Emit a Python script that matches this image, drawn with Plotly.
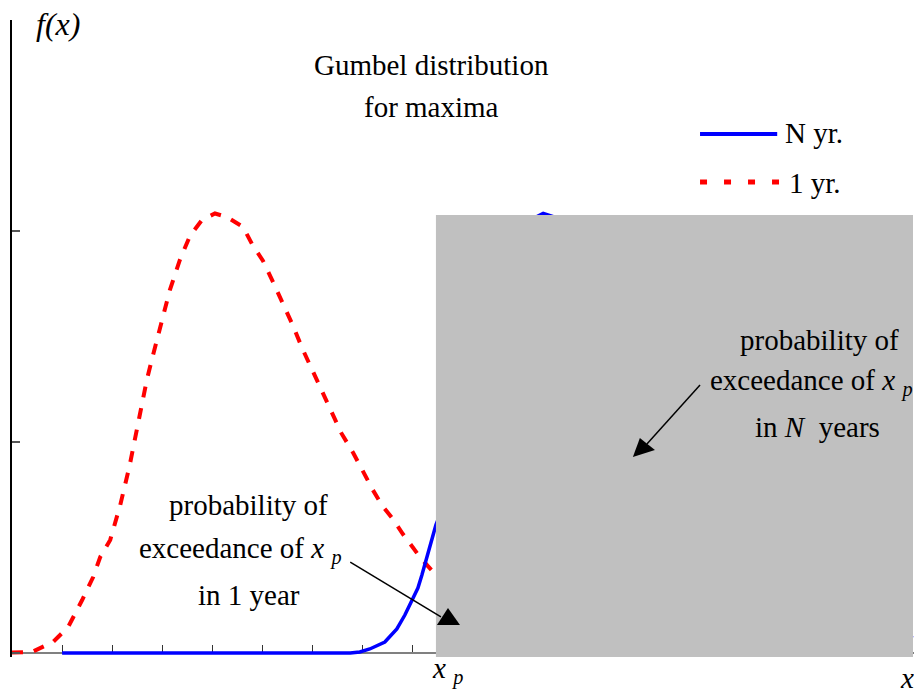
import plotly.graph_objects as go

# ---- data (x in axis units, f(x) in axis units) ----
one_year_x = [0.00, 0.40, 0.82, 1.12, 1.40, 1.62, 1.76, 1.96, 2.16, 2.35, 2.55, 2.69,
              2.81, 2.99, 3.15, 3.35, 3.55, 3.79, 4.05, 4.29, 4.61, 4.79, 5.01, 5.21,
              5.41, 5.61, 5.79, 5.99, 6.21, 6.39, 6.57, 6.81, 7.00, 7.20, 7.38, 7.60,
              7.80, 7.98, 8.14, 8.30, 8.46, 8.74, 9.14, 9.74, 10.54, 11.73, 13.33,
              15.33, 17.98]
one_year_f = [0.002, 0.005, 0.052, 0.123, 0.251, 0.360, 0.455, 0.536, 0.701, 0.891,
              1.128, 1.294, 1.408, 1.569, 1.720, 1.863, 1.976, 2.052, 2.083, 2.066,
              2.019, 1.938, 1.858, 1.758, 1.654, 1.550, 1.445, 1.341, 1.232, 1.133,
              1.043, 0.948, 0.858, 0.773, 0.701, 0.635, 0.564, 0.502, 0.455, 0.412,
              0.370, 0.318, 0.261, 0.185, 0.118, 0.057, 0.024, 0.007, 0.000]

n_year_x = [1.00, 6.75, 6.94, 7.14, 7.44, 7.68, 7.84, 7.98, 8.10, 8.18, 8.34, 8.46,
            8.74, 9.14, 9.54, 9.94, 10.34, 10.60, 10.86, 11.16, 11.53, 11.93, 12.33,
            12.93, 13.73, 14.73, 15.73, 16.72, 17.98]
n_year_f = [0.000, 0.000, 0.005, 0.019, 0.052, 0.114, 0.180, 0.251, 0.308, 0.370,
            0.498, 0.607, 0.773, 1.175, 1.569, 1.886, 2.052, 2.083, 2.064, 2.019,
            1.867, 1.673, 1.445, 1.133, 0.782, 0.445, 0.251, 0.147, 0.071]

# exceedance region beyond x_p
x_p = 8.46
x_end = 17.98
region_top = 2.076

X_MAX = 18
Y_MAX = 3
Y_PAD = 0.019

SERIF = "Liberation Serif"
BLUE = "#0000FF"
RED = "#FF0000"
GREY = "#C0C0C0"

fig = go.Figure()
fig.add_trace(go.Scatter(x=one_year_x, y=one_year_f, mode="lines", name="1 yr.",
                         line=dict(color=RED, width=4, dash="11px,11px")))
fig.add_trace(go.Scatter(x=n_year_x, y=n_year_f, mode="lines", name="N yr.",
                         line=dict(color=BLUE, width=3.5)))

shapes = [
    dict(type="rect", xref="x", yref="y", x0=x_p, x1=x_end, y0=-Y_PAD, y1=region_top,
         fillcolor=GREY, line=dict(width=0), layer="above"),
    # arrow for the 1-year exceedance
    dict(type="line", xref="x", yref="y", x0=6.75, y0=0.431, x1=8.56, y1=0.171,
         line=dict(color="black", width=1.5), layer="above"),
    dict(type="path", xref="x", yref="y", path="M8.70,0.213 L8.48,0.133 L8.94,0.133 Z",
         fillcolor="black", line=dict(width=0), layer="above"),
    # arrow for the N-year exceedance
    dict(type="line", xref="x", yref="y", x0=13.73, y0=1.270, x1=12.67, y1=0.991,
         line=dict(color="black", width=1.5), layer="above"),
    dict(type="path", xref="x", yref="y", path="M12.39,0.929 L12.53,1.019 L12.83,0.962 Z",
         fillcolor="black", line=dict(width=0), layer="above"),
    # legend samples
    dict(type="line", xref="x", yref="y", x0=13.73, x1=15.27, y0=2.460, y1=2.460,
         line=dict(color=BLUE, width=4), layer="above"),
    dict(type="line", xref="x", yref="y", x0=13.73, x1=15.31, y0=2.232, y1=2.232,
         line=dict(color=RED, width=5, dash="7px,17px"), layer="above"),
]


def label(x, y, text, size=29, xanchor="center", yshift=0, height=None):
    return dict(x=x, y=y, xref="x", yref="y", text=text, showarrow=False,
                xanchor=xanchor, yanchor="middle", yshift=yshift, height=height,
                font=dict(family=SERIF, size=size, color="black"))


xp_text = "<i>x</i> <sub><i>p</i></sub>"
annotations = [
    label(8.38, 2.787, "Gumbel distribution"),
    label(8.38, 2.588, "for maxima"),
    label(15.39, 2.464, "N yr.", xanchor="left"),
    label(15.47, 2.227, "1 yr.", xanchor="left"),
    label(16.12, 1.483, "probability of"),
    label(13.89, 1.284, "exceedance of " + xp_text, xanchor="left"),
    label(16.07, 1.071, "in <i>N</i>\u00a0 years"),
    label(4.72, 0.701, "probability of"),
    label(2.49, 0.488, "exceedance of " + xp_text, xanchor="left"),
    label(4.72, 0.275, "in 1 year"),
    label(0.44, 2.98, "<i>f(x)</i>", size=32, xanchor="left"),
    # axis labels sit just below the x axis
    label(8.34, 0, xp_text, xanchor="left", yshift=-18),
    label(17.68, 0, "<i>x</i>", xanchor="left", yshift=-25, height=26),
]

fig.update_layout(
    width=923, height=693,
    margin=dict(l=12, r=9, t=20, b=36),
    paper_bgcolor="white", plot_bgcolor="white",
    showlegend=False,
    font=dict(family=SERIF, color="black"),
    shapes=shapes,
    annotations=annotations,
    xaxis=dict(range=[0, X_MAX], dtick=1, tick0=0, showticklabels=False,
               ticks="inside", ticklen=7, tickwidth=1, tickcolor="#333333",
               showline=True, linecolor="#808080", linewidth=2,
               showgrid=False, zeroline=False, layer="below traces",
               anchor="free", position=Y_PAD / (Y_MAX + Y_PAD)),
    yaxis=dict(range=[-Y_PAD, Y_MAX], dtick=1, tick0=0, showticklabels=False,
               ticks="inside", ticklen=8, tickwidth=1.5, tickcolor="#555555",
               showline=True, linecolor="black", linewidth=1.5,
               showgrid=False, zeroline=False),
)

fig.write_html("out.html")
